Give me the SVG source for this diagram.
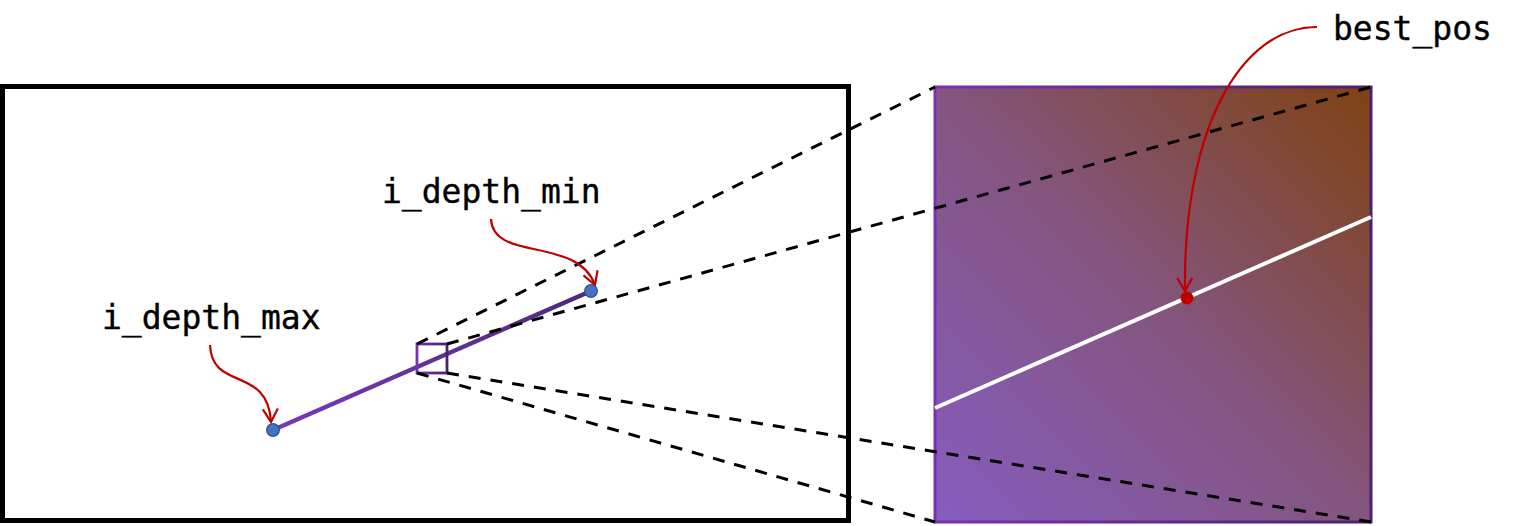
<svg xmlns="http://www.w3.org/2000/svg" width="1516" height="526" viewBox="0 0 1516 526">
<style>
.lbl{font-family:"DejaVu Sans Mono","Liberation Mono",monospace;font-size:33px;fill:#000;stroke:#000;stroke-width:0.4}
.dash{fill:none;stroke:#000;stroke-width:3;stroke-dasharray:12 10}
.callout{fill:none;stroke:#c00000;stroke-width:2.2}
.pt{fill:#4472c4;stroke:#2f528f;stroke-width:1.3}
</style>
<defs>
<linearGradient id="strokeG" x1="0" y1="0" x2="1" y2="0">
<stop offset="0" stop-color="#7a30b4"/>
<stop offset="1" stop-color="#4a2070"/>
</linearGradient>
<linearGradient id="lineG" gradientUnits="userSpaceOnUse" x1="273" y1="430" x2="591" y2="291">
<stop offset="0" stop-color="#7a38b8"/>
<stop offset="1" stop-color="#4c2a78"/>
</linearGradient>
<linearGradient id="fillG" gradientUnits="userSpaceOnUse" x1="935" y1="522" x2="1371" y2="87">
<stop offset="0" stop-color="#855cc0"/>
<stop offset="0.5" stop-color="#84557e"/>
<stop offset="1" stop-color="#7f4212"/>
</linearGradient>
<marker id="arr" markerWidth="18" markerHeight="18" refX="14" refY="9" orient="auto" markerUnits="userSpaceOnUse">
<path d="M1,1.5 L14,9 L1,16.5" fill="none" stroke="#c00000" stroke-width="2.2"/>
</marker>
</defs>

<g id="view">
<rect x="2.5" y="86.5" width="846" height="434" fill="#fff" stroke="#000" stroke-width="5"/>
</g>

<g id="zoom-panel">
<rect x="935" y="87" width="436" height="435" fill="url(#fillG)" stroke="url(#strokeG)" stroke-width="3"/>
<line x1="935" y1="408" x2="1371" y2="217" stroke="#fff" stroke-width="4"/>
<circle cx="1187" cy="298" r="6.5" fill="#c00000"/>
</g>

<g id="ray">
<line x1="273" y1="430" x2="591" y2="291" stroke="url(#lineG)" stroke-width="4.5"/>
<rect x="417" y="344" width="30" height="29" fill="none" stroke="url(#strokeG)" stroke-width="2.8"/>
</g>

<g id="connectors">
<line class="dash" x1="417" y1="344" x2="935" y2="87"/>
<line class="dash" x1="447" y1="344" x2="1371" y2="87"/>
<line class="dash" x1="417" y1="373" x2="935" y2="522"/>
<line class="dash" x1="447" y1="373" x2="1371" y2="522"/>
<path class="callout" d="M491,219 C493,262 577,236 595,285" marker-end="url(#arr)"/>
<path class="callout" d="M210,345 C212,392 268,365 271,422" marker-end="url(#arr)"/>
<path class="callout" d="M1317,27 C1240,27 1183,130 1185,291" marker-end="url(#arr)"/>
</g>

<g id="p-min">
<circle class="pt" cx="591" cy="291" r="6.3"/>
<text class="lbl" x="382" y="203">i_depth_min</text>
</g>
<g id="p-max">
<circle class="pt" cx="273" cy="430" r="6.3"/>
<text class="lbl" x="102" y="329">i_depth_max</text>
</g>
<g id="best">
<text class="lbl" x="1333" y="40">best_pos</text>
</g>
</svg>
